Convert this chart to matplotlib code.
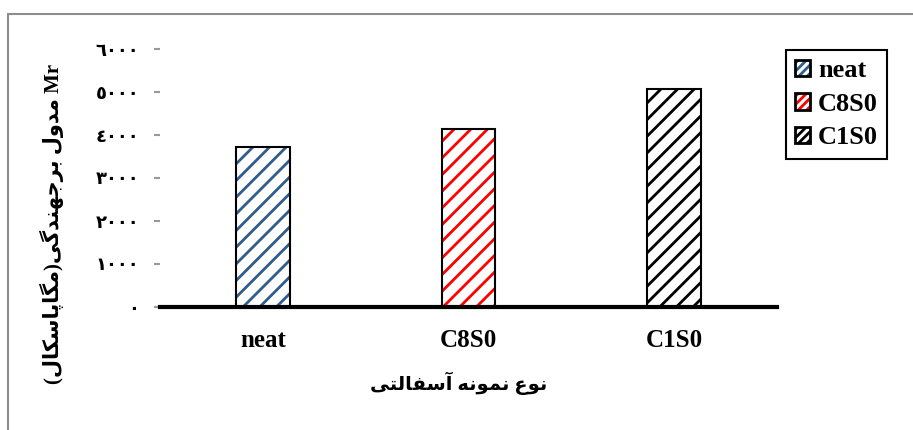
import matplotlib
matplotlib.use("Agg")
import matplotlib.pyplot as plt
from matplotlib.patches import Rectangle, Patch
from matplotlib.legend_handler import HandlerTuple

# Bar values (MPa) per asphalt mix
categories = ["neat", "C8S0", "C1S0"]
values = [3720, 4140, 5070]
colors = ["#2F5D8C", "#FF0000", "#000000"]
yticks = [0, 1000, 2000, 3000, 4000, 5000, 6000]

xlabel_fa = "نوع نمونه آسفالتی"
ylabel_fa = "مدول برجهندگی(مگاپاسکال)"

# Contextual forms: (isolated, final, initial, medial); right-joining letters have no initial/medial
FORMS = {
    "ا": ("\uFE8D", "\uFE8E", None, None),
    "آ": ("\uFE81", "\uFE82", None, None),
    "ب": ("\uFE8F", "\uFE90", "\uFE91", "\uFE92"),
    "پ": ("\uFB56", "\uFB57", "\uFB58", "\uFB59"),
    "ت": ("\uFE95", "\uFE96", "\uFE97", "\uFE98"),
    "ج": ("\uFE9D", "\uFE9E", "\uFE9F", "\uFEA0"),
    "د": ("\uFEA9", "\uFEAA", None, None),
    "ر": ("\uFEAD", "\uFEAE", None, None),
    "س": ("\uFEB1", "\uFEB2", "\uFEB3", "\uFEB4"),
    "ع": ("\uFEC9", "\uFECA", "\uFECB", "\uFECC"),
    "ف": ("\uFED1", "\uFED2", "\uFED3", "\uFED4"),
    "ک": ("\uFB8E", "\uFB8F", "\uFB90", "\uFB91"),
    "گ": ("\uFB92", "\uFB93", "\uFB94", "\uFB95"),
    "ل": ("\uFEDD", "\uFEDE", "\uFEDF", "\uFEE0"),
    "م": ("\uFEE1", "\uFEE2", "\uFEE3", "\uFEE4"),
    "ن": ("\uFEE5", "\uFEE6", "\uFEE7", "\uFEE8"),
    "ه": ("\uFEE9", "\uFEEA", "\uFEEB", "\uFEEC"),
    "و": ("\uFEED", "\uFEEE", None, None),
    "ی": ("\uFBFC", "\uFBFD", "\uFBFE", "\uFBFF"),
}
MIRROR = {"(": ")", ")": "("}


def rtl(text):
    """Shape Persian letters and return them in left-to-right drawing order."""
    out = []
    for i, ch in enumerate(text):
        if ch not in FORMS:
            out.append(MIRROR.get(ch, ch))
            continue
        prev = text[i - 1] if i > 0 else ""
        nxt = text[i + 1] if i + 1 < len(text) else ""
        join_prev = prev in FORMS and FORMS[prev][2] is not None
        join_next = FORMS[ch][2] is not None and nxt in FORMS
        iso, fin, ini, med = FORMS[ch]
        if join_prev and join_next:
            out.append(med)
        elif join_prev:
            out.append(fin)
        elif join_next:
            out.append(ini)
        else:
            out.append(iso)
    return "".join(reversed(out))


def arabic_digits(v):
    return "".join(chr(0x660 + int(d)) for d in str(v))


plt.rcParams["font.family"] = ["Liberation Serif", "DejaVu Sans"]
plt.rcParams["hatch.linewidth"] = 2.0

W, H = 913, 430
fig = plt.figure(figsize=(W / 100, H / 100), dpi=100)
ax = fig.add_axes([160 / W, 123 / H, 617 / W, 258 / H])

x = list(range(len(categories)))
# hatch layer (hatch takes the edge colour), then a black outline on top
ax.bar(x, values, width=0.26, color="white", edgecolor=colors,
       linewidth=0, hatch="//", zorder=3)
ax.bar(x, values, width=0.26, fill=False, edgecolor="black",
       linewidth=1.5, zorder=4)

ax.set_xlim(-0.5, 2.5)
ax.set_ylim(0, 6000)
ax.set_yticks(yticks)
ax.set_yticklabels([arabic_digits(v) for v in yticks], fontsize=13,
                   fontweight="bold")
ax.set_xticks(x)
ax.set_xticklabels(categories, fontsize=18, fontweight="bold")
ax.tick_params(axis="y", length=4, width=1.5, color="#999999", pad=11)
ax.tick_params(axis="x", length=0, pad=16)

for s in ["top", "right", "left"]:
    ax.spines[s].set_visible(False)
ax.spines["bottom"].set_linewidth(3)
ax.spines["bottom"].set_zorder(5)

fig.text(459 / W, 1 - 383 / H, rtl(xlabel_fa), ha="center", va="center",
         fontsize=14, fontweight="bold")
fig.text(52 / W, 1 - 224 / H, rtl(ylabel_fa) + " Mr", rotation=90,
         ha="center", va="center", fontsize=15, fontweight="bold")

handles = [(Patch(facecolor="white", edgecolor=c, hatch="////", linewidth=0),
            Patch(fill=False, edgecolor="black", linewidth=2))
           for c in colors]
leg = fig.legend(handles, categories, loc="upper left",
                 bbox_to_anchor=(786 / W, 1 - 50 / H), borderaxespad=0,
                 handler_map={tuple: HandlerTuple(ndivide=1, pad=0)},
                 prop={"size": 19, "weight": "bold"},
                 handlelength=0.57, handleheight=0.57, handletextpad=0.3,
                 labelspacing=0.4, borderpad=0.35, fancybox=False,
                 framealpha=1, edgecolor="black")
leg.get_frame().set_linewidth(1.5)

# outer frame around the chart area
fig.add_artist(Rectangle((8 / W, -0.2), 1.2, 1.2 - 14 / H,
                         transform=fig.transFigure, fill=False,
                         edgecolor="#8c8c8c", linewidth=1.5))

fig.savefig("out.png", dpi=100)
